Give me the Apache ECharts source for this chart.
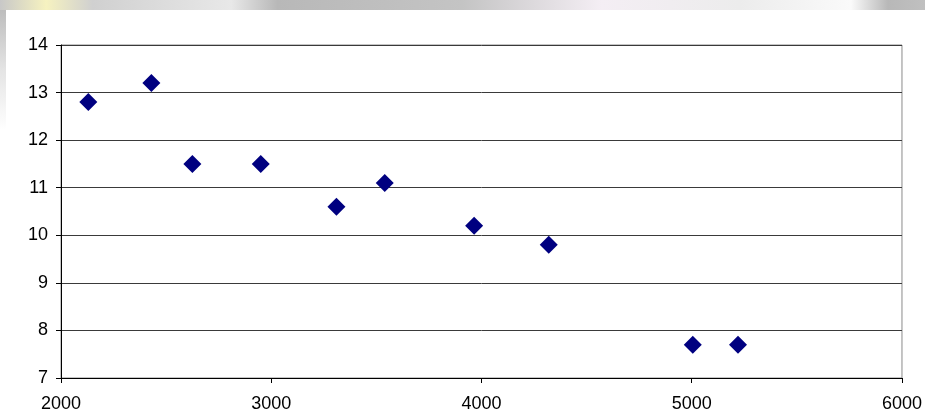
<!DOCTYPE html>
<html>
<head>
<meta charset="utf-8">
<script src="https://cdn.jsdelivr.net/npm/echarts@6/dist/echarts.min.js"></script>
<style>
html,body{margin:0;padding:0;background:#fff;}
#chart{width:925px;height:414px;}
</style>
</head>
<body>
<div id="chart"></div>
<script>
var xValues = [2130, 2430, 2625, 2950, 3310, 3540, 3965, 4320, 5005, 5220];
var yValues = [12.8, 13.2, 11.5, 11.5, 10.6, 11.1, 10.2, 9.8, 7.7, 7.7];
var xTicks = [2000, 3000, 4000, 5000, 6000];
var yTicks = [7, 8, 9, 10, 11, 12, 13, 14];

var points = xValues.map(function (x, i) { return [x, yValues[i]]; });

var chart = echarts.init(document.getElementById('chart'), null, {renderer: 'canvas'});
var font = '"Liberation Sans", Arial, sans-serif';
chart.setOption({
  animation: false,
  backgroundColor: '#ffffff',
  graphic: [
    {type: 'rect', left: 0, top: 0, shape: {width: 925, height: 10}, silent: true, z: -10,
     style: {fill: new echarts.graphic.LinearGradient(0, 0, 1, 0, [
       {offset: 0, color: '#c8c8c8'}, {offset: 0.05, color: '#f6f2c0'}, {offset: 0.1, color: '#d0d0d0'},
       {offset: 0.25, color: '#e8e8e8'}, {offset: 0.3, color: '#b8b8b8'}, {offset: 0.5, color: '#c4c4c4'},
       {offset: 0.65, color: '#f4eef4'}, {offset: 0.8, color: '#ececec'}, {offset: 0.92, color: '#fafafa'},
       {offset: 0.96, color: '#b8b8b8'}, {offset: 1, color: '#c0c0c0'}])}},
    {type: 'rect', left: 0, top: 10, shape: {width: 6, height: 120}, silent: true, z: -10,
     style: {fill: new echarts.graphic.LinearGradient(0, 0, 0, 1, [
       {offset: 0, color: '#bdbdbd'}, {offset: 0.5, color: '#e4e4e4'}, {offset: 1, color: '#ffffff'}])}}
  ],
  grid: {left: 61, right: 22, top: 45, bottom: 36, show: true, borderColor: '#8a8a8a', borderWidth: 1, backgroundColor: 'transparent'},
  xAxis: {
    type: 'value', min: 2000, max: 6000, interval: 1000,
    axisLine: {show: true, onZero: false, lineStyle: {color: '#000', width: 1}},
    axisTick: {show: true, inside: false, length: 5, lineStyle: {color: '#000'}},
    axisLabel: {color: '#000', fontSize: 18, fontFamily: font, margin: 17,
      formatter: function (v) { return xTicks.indexOf(v) >= 0 ? String(v) : ''; }},
    splitLine: {show: false}
  },
  yAxis: {
    type: 'value', min: 7, max: 14, interval: 1,
    axisLine: {show: true, onZero: false, lineStyle: {color: '#000', width: 1}},
    axisTick: {show: true, inside: false, length: 5, lineStyle: {color: '#000'}},
    axisLabel: {color: '#000', fontSize: 18, fontFamily: font, margin: 13,
      formatter: function (v) { return yTicks.indexOf(v) >= 0 ? String(v) : ''; }},
    splitLine: {show: true, lineStyle: {color: '#3a3a3a', width: 1}}
  },
  series: [{
    type: 'scatter',
    data: points,
    symbol: 'diamond',
    symbolSize: [18, 18],
    itemStyle: {color: '#000080', opacity: 1},
    emphasis: {disabled: true}
  }]
});
</script>
</body>
</html>
